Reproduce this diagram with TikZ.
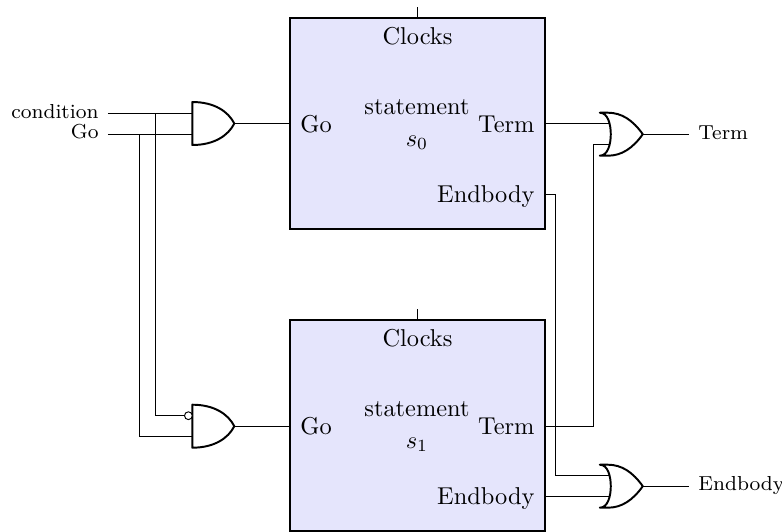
\documentclass[tikz,border=0pt]{standalone}
\usetikzlibrary{calc}
\definecolor{blockfill}{RGB}{229,229,252}
\tikzset{
  x=0.41pt,y=-0.41pt,
  wire/.style={line width=0.4pt,black},
  gateline/.style={draw,line width=0.8pt,line join=round},
  blockbox/.style={draw,thick,fill=blockfill,minimum width=104.5pt,minimum height=86.5pt,inner sep=0pt},
  txt/.style={inner sep=0pt,anchor=base},
  txtr/.style={inner sep=0pt,anchor=base east},
  sm/.style={inner sep=0pt,font=\fontsize{8.3}{10}\selectfont},
}
% gate centred vertically on y, back edge at x
\newcommand\andshape[3]{%
  \begin{scope}[shift={(#2,#3)}]
    \coordinate (#1-i1) at (0,-10.5);
    \coordinate (#1-i2) at (0,10.5);
    \coordinate (#1-o) at (42,0);
    \path[gateline] (0,-21.5) .. controls (22,-21.5) and (36,-12) .. (42,0)
       .. controls (36,12) and (22,21.5) .. (0,21.5) -- cycle;
  \end{scope}}
\newcommand\orshape[3]{%
  \begin{scope}[shift={(#2,#3)}]
    \coordinate (#1-i1) at (9.5,-10.5);
    \coordinate (#1-i2) at (9.5,10.5);
    \coordinate (#1-o) at (43,0);
    \path[gateline] (0,-21.5) -- (8,-21.5) .. controls (22,-21.5) and (33,-14) .. (43,0)
       .. controls (33,14) and (22,21.5) .. (8,21.5) -- (0,21.5)
       .. controls (8,21.5) and (11,10) .. (11,0)
       .. controls (11,-10) and (8,-21.5) .. (0,-21.5) -- cycle;
  \end{scope}}
\begin{document}
\begin{tikzpicture}
\useasboundingbox (0,0) rectangle (782,532);
% blocks
\node[blockbox] (b0) at (417.5,123.5) {};
\node[blockbox] (b1) at (417.5,425.5) {};
\coordinate (c0) at (417.5,7);
\coordinate (c1) at (417.5,309);
\draw[wire] (c0) -- (b0.north);
\draw[wire] (c1) -- (b1.north);
\node[txt] (clk0) at (417.5,44) {Clocks};
\node[txt] (clk1) at (417.5,346) {Clocks};
\node[txt,anchor=base west] (go0) at (300,132) {Go};
\node[txt,anchor=base west] (go1) at (300,434) {Go};
\node[txt] (st0) at (417,114) {statement};
\node[txt] (st1) at (417,416) {statement};
\node[txt] (s0) at (417,146) {$s_0$};
\node[txt] (s1) at (417,448) {$s_1$};
\node[txtr] (t0) at (535,132) {Term};
\node[txtr] (t1) at (535,434) {Term};
\node[txtr] (e0) at (535,202) {Endbody};
\node[txtr] (e1) at (535,504) {Endbody};
% gates
\andshape{a0}{192.3}{123.5}
\andshape{a1}{192.3}{426.2}
\orshape{o0}{599.8}{134.2}
\orshape{o1}{599.8}{486.2}
\node[draw,wire,circle,inner sep=0pt,minimum size=3.2pt,fill=white] (bub) at (188.4,415.7) {};
% labels
\node[sm,anchor=base east] (cond) at (99,118) {condition};
\node[sm,anchor=base east] (go) at (99,138.5) {Go};
\node[sm,anchor=base west] (term) at (698,139) {Term};
\node[sm,anchor=base west] (endb) at (698,490.5) {Endbody};
% free wire ends
\coordinate (cs) at (108,0 |- a0-i1);
\coordinate (gs) at (108,0 |- a0-i2);
\coordinate (oe0) at (689,0 |- o0-o);
\coordinate (oe1) at (689,0 |- o1-o);
% wires
\draw[wire] (cs) -- (a0-i1);
\draw[wire] (gs) -- (a0-i2);
\draw[wire] (155,0 |- cs) -- (155,0 |- bub) -- (bub.west);
\draw[wire] (139,0 |- gs) -- (139,0 |- a1-i2) -- (a1-i2);
\draw[wire] (a0-o) -- (b0.west |- a0-o);
\draw[wire] (a1-o) -- (b1.west |- a1-o);
\draw[wire] (b0.east |- o0-i1) -- (o0-i1);
\draw[wire] (b1.east |- 0,426) -- (593,426) -- (593,0 |- o0-i2) -- (o0-i2);
\draw[wire] (b0.east |- 0,194) -- (555,194) -- (555,0 |- o1-i1) -- (o1-i1);
\draw[wire] (b1.east |- o1-i2) -- (o1-i2);
\draw[wire] (o0-o) -- (oe0);
\draw[wire] (o1-o) -- (oe1);
\end{tikzpicture}
\end{document}
